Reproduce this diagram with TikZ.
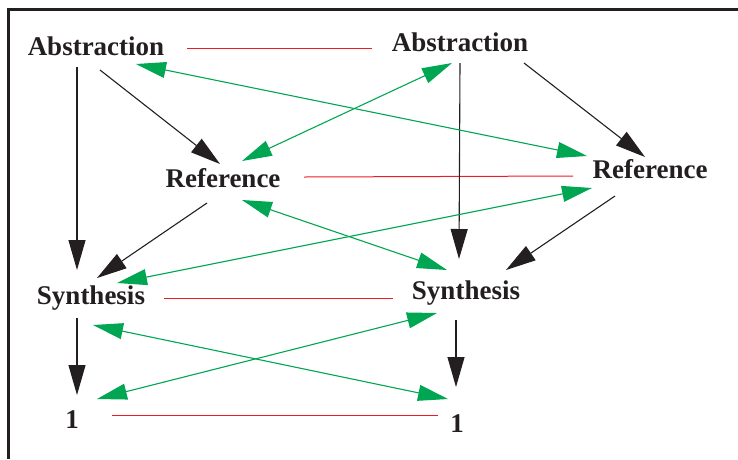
\documentclass[tikz,border=0pt]{standalone}
\usepackage{fontspec}
\setmainfont{Liberation Serif}
\usetikzlibrary{arrows.meta}

\definecolor{linegreen}{RGB}{0,166,81}
\definecolor{linered}{RGB}{237,28,36}
\definecolor{inkblack}{RGB}{35,31,32}

\begin{document}
\begin{tikzpicture}[x=1pt, y=-1pt,
  lbl/.style={font=\bfseries\fontsize{27}{30}\selectfont, text=inkblack, inner sep=0pt, anchor=base},
  blk/.style={draw=inkblack, line width=1.1pt, -{Triangle[length=30pt,width=17pt]}},
  grn/.style={draw=linegreen, line width=1.1pt, {Triangle[length=30pt,width=16pt]}-{Triangle[length=30pt,width=16pt]}},
  redline/.style={draw=linered, line width=1pt}]

\useasboundingbox (0,0) rectangle (738,459);

% Frame (top and left edge only)
\draw[line width=3pt, inkblack] (8,459) -- (8,9) -- (738,9);

% Labels
\node[lbl] (A1) at (96,55)  {Abstraction};
\node[lbl] (A2) at (460,51) {Abstraction};
\node[lbl] (R1) at (223,187) {Reference};
\node[lbl] (R2) at (650,178) {Reference};
\node[lbl] (S1) at (91,304) {Synthesis};
\node[lbl] (S2) at (466,299) {Synthesis};
\node[lbl] (O1) at (72,428) {1};
\node[lbl] (O2) at (457,432) {1};

% Red links between the two columns
\draw[redline] ([shift={(91,-7)}]A1.base) -- ([shift={(-88,-3)}]A2.base);
\draw[redline] ([shift={(81,-10)}]R1.base) -- ([shift={(-77,-2)}]R2.base);
\draw[redline] ([shift={(73,-6)}]S1.base) -- ([shift={(-73,-1)}]S2.base);
\draw[redline] ([shift={(40,-13)}]O1.base) -- ([shift={(-19,-17)}]O2.base);

% Black arrows inside each column
\draw[blk] ([shift={(-19,12)}]A1.base) -- ([shift={(-14,-34)}]S1.base);
\draw[blk] ([shift={(4,15)}]A1.base) -- ([shift={(-3,-23)}]R1.base);
\draw[blk] ([shift={(-16,16)}]R1.base) -- ([shift={(6,-26)}]S1.base);
\draw[blk] ([shift={(-14,14)}]S1.base) -- ([shift={(5,-33)}]O1.base);
\draw[blk] ([shift={(0,12)}]A2.base) -- ([shift={(-7,-40)}]S2.base);
\draw[blk] ([shift={(64,12)}]A2.base) -- ([shift={(-5,-21)}]R2.base);
\draw[blk] ([shift={(-35,18)}]R2.base) -- ([shift={(40,-29)}]S2.base);
\draw[blk] ([shift={(-10,21)}]S2.base) -- ([shift={(-1,-45)}]O2.base);

% Green crossing arrows (both ways)
\draw[grn] ([shift={(40,9)}]A1.base) -- ([shift={(-63,-22)}]R2.base);
\draw[grn] ([shift={(-8,12)}]A2.base) -- ([shift={(19,-26)}]R1.base);
\draw[grn] ([shift={(19,13)}]R1.base) -- ([shift={(-19,-29)}]S2.base);
\draw[grn] ([shift={(-58,10)}]R2.base) -- ([shift={(26,-21)}]S1.base);
\draw[grn] ([shift={(2,21)}]S1.base) -- ([shift={(-9,-33)}]O2.base);
\draw[grn] ([shift={(-29,14)}]S2.base) -- ([shift={(25,-29)}]O1.base);

\end{tikzpicture}
\end{document}
